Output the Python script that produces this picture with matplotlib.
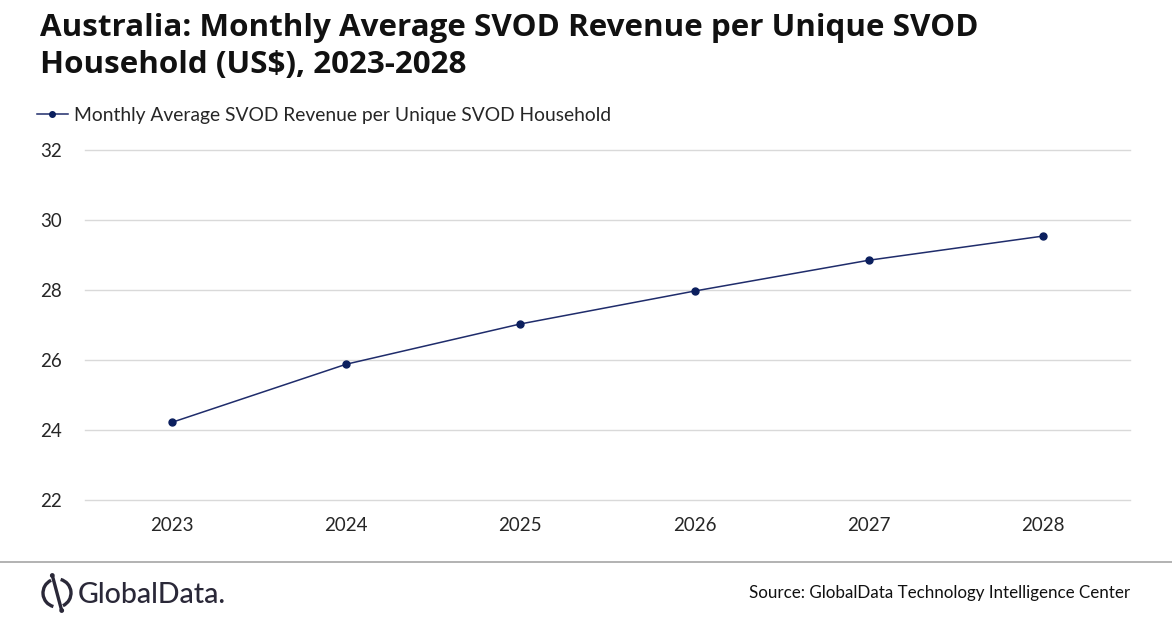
import matplotlib
matplotlib.use("Agg")
import matplotlib.pyplot as plt
from matplotlib.patches import Arc, Circle
from matplotlib.lines import Line2D
import matplotlib.transforms as mtransforms

years = ["2023", "2024", "2025", "2026", "2027", "2028"]
values = [24.22, 25.88, 27.03, 27.97, 28.85, 29.54]
series_name = "Monthly Average SVOD Revenue per Unique SVOD Household"
title = "Australia: Monthly Average SVOD Revenue per Unique SVOD\nHousehold (US$), 2023-2028"
source = "Source: GlobalData Technology Intelligence Center"
yticks = [22, 24, 26, 28, 30, 32]

W, H = 1172, 628
fig = plt.figure(figsize=(W / 100, H / 100), dpi=100)
plt.rcParams['font.family'] = ['Lato', 'DejaVu Sans']

ax = fig.add_axes([85 / W, 1 - 500 / H, (1130 - 85) / W, 350 / H])
x = list(range(len(years)))
line_color = "#1f2c6b"
ax.plot(x, values, color=line_color, lw=1.1, marker="o", ms=5,
        mfc="#0b1f5e", mec="#0b1f5e", label=series_name)
ax.set_xlim(-0.5, len(years) - 0.5)
ax.set_ylim(22, 32)
ax.set_yticks(yticks)
ax.set_xticks(x)
ax.set_xticklabels(years)
ax.grid(axis="y", color="#d9d9d9", lw=1)
for gl in ax.get_ygridlines():
    gl.set_clip_on(False)
ax.set_axisbelow(True)
for s in ax.spines.values():
    s.set_visible(False)
ax.tick_params(length=0, labelsize=13.5, colors="#262626")
ax.tick_params(axis="x", pad=12)
ax.tick_params(axis="y", pad=0)
offset = mtransforms.ScaledTranslation(-45 / 100, 0, fig.dpi_scale_trans)
for lbl in ax.get_yticklabels():
    lbl.set_horizontalalignment("left")
    lbl.set_transform(lbl.get_transform() + offset)

fig.text(40 / W, 1 - 13 / H, title, fontsize=22.6, fontweight="bold",
         family=["Open Sans", "DejaVu Sans"],
         color="#111111", va="top", ha="left", linespacing=1.32)

leg = fig.legend(handles=[Line2D([0], [0], color=line_color, lw=1.1, marker="o", ms=4,
                                 mfc="#0b1f5e", mec="#0b1f5e")],
                 labels=[series_name], loc="center left",
                 bbox_to_anchor=(37 / W, 1 - 115 / H), frameon=False,
                 fontsize=13.9, handlelength=1.6, handletextpad=0.3,
                 borderaxespad=0, borderpad=0)
for t in leg.get_texts():
    t.set_color("#262626")

# footer separator
fig.add_artist(Line2D([0, 1], [1 - 562 / H, 1 - 562 / H], color="#a6a6a6", lw=1.2))

fig.text(1130 / W, 1 - 593 / H, source, fontsize=12.25, color="#111111",
         ha="right", va="center")

# logo
logo_color = "#2a2838"
lax = fig.add_axes([36 / W, 1 - 614 / H, 42 / W, 42 / H])
lax.set_xlim(0, 42)
lax.set_ylim(0, 42)
lax.set_aspect("equal")
lax.axis("off")
lax.add_patch(Arc((21, 21), 28, 28, theta1=115, theta2=255, color=logo_color, lw=2.4))
lax.add_patch(Arc((21, 21), 28, 28, theta1=295, theta2=75, color=logo_color, lw=2.4))
lax.plot([17, 25], [36, 6], color=logo_color, lw=2.4)
lax.add_patch(Circle((16.3, 38.5), 1.7, color=logo_color))
lax.add_patch(Circle((25.7, 3.5), 1.7, color=logo_color))
fig.text(78 / W, 1 - 595 / H, "GlobalData.", fontsize=20.5, color=logo_color,
         ha="left", va="center", fontweight="medium")

fig.savefig("out.png", dpi=100)
